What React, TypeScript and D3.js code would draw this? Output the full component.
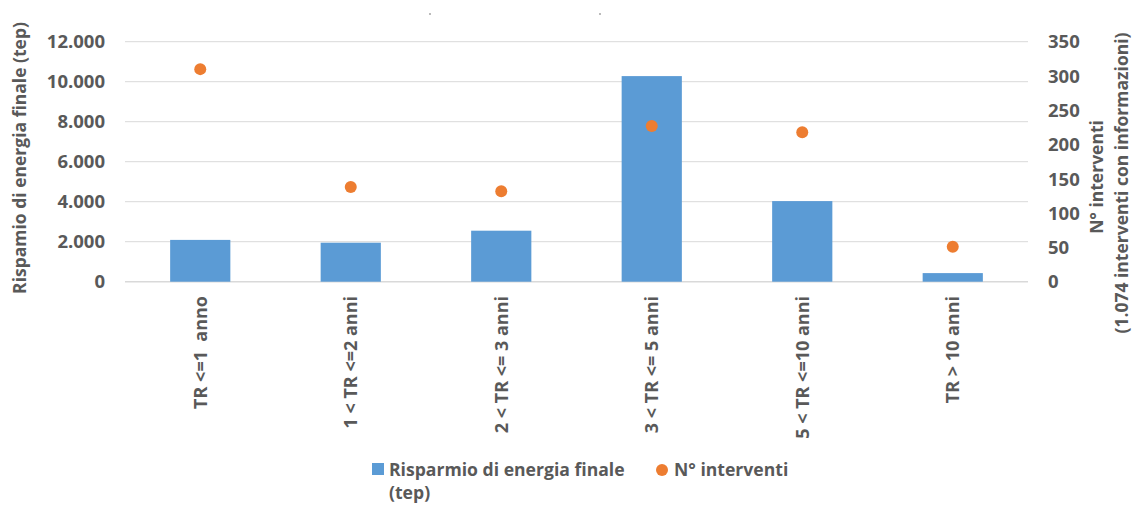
import React from "react";
import * as d3 from "d3";

const categories = ["TR <=1  anno", "1 < TR <=2 anni", "2 < TR <= 3 anni", "3 < TR <= 5 anni", "5 < TR <=10 anni", "TR > 10 anni"];
const risparmio = [2090, 1950, 2550, 10280, 4030, 430];
const interventi = [310, 138, 132, 227, 218, 51];
const leftTicks = [0, 2000, 4000, 6000, 8000, 10000, 12000];
const rightTicks = [0, 50, 100, 150, 200, 250, 300, 350];

const W = 1132, H = 506;
const M = { left: 125, right: 1028, top: 41.7, bottom: 281.7 };
const FONT = "'Open Sans', sans-serif";
const TXT = "#595959";
const fmt = (v: number) => (v === 0 ? "0" : d3.format(",")(v).replace(/,/g, "."));

export default function App() {
  const x = d3.scaleBand<string>().domain(categories).range([M.left, M.right]).paddingInner(0.6).paddingOuter(0.3);
  const xc = d3.scaleBand<string>().domain(categories).range([M.left, M.right]);
  const yL = d3.scaleLinear().domain([0, 12000]).range([M.bottom, M.top]);
  const yR = d3.scaleLinear().domain([0, 350]).range([M.bottom, M.top]);
  return (
    <svg width={W} height={H} style={{ position: "absolute", left: 0, top: 0, display: "block", background: "#fff" }} fontFamily={FONT}>
      <rect x={429} y={13} width={2} height={2} fill="#bbb" />
      <rect x={599} y={13} width={2} height={2} fill="#bbb" />
      {leftTicks.map((t) => (
        <line key={t} x1={M.left} x2={M.right} y1={yL(t)} y2={yL(t)} stroke="#d9d9d9" strokeWidth={t === 0 ? 1.5 : 1} />
      ))}
      {categories.map((c, i) => (
        <rect key={c} x={x(c)} width={x.bandwidth()} y={yL(risparmio[i])} height={yL(0) - yL(risparmio[i])} fill="#5b9bd5" />
      ))}
      {categories.map((c, i) => (
        <circle key={c} cx={(xc(c) as number) + xc.bandwidth() / 2} cy={yR(interventi[i])} r={6} fill="#ed7d31" />
      ))}
      {leftTicks.map((t) => (
        <text key={t} x={105} y={yL(t)} dy="0.36em" textAnchor="end" fontSize={18.5} fontWeight="bold" fill={TXT}>{fmt(t)}</text>
      ))}
      {rightTicks.map((t) => (
        <text key={t} x={1048} y={yR(t)} dy="0.36em" textAnchor="start" fontSize={18.5} fontWeight="bold" fill={TXT}>{t}</text>
      ))}
      {categories.map((c) => (
        <text key={c} transform={`translate(${(xc(c) as number) + xc.bandwidth() / 2 + 6.5},296) rotate(-90)`} textAnchor="end" fontSize={18} fontWeight="bold" fill={TXT} style={{ whiteSpace: "pre" }}>{c}</text>
      ))}
      <text transform="translate(26,158) rotate(-90)" textAnchor="middle" fontSize={17.5} fontWeight="bold" fill={TXT}>Rispamio di energia finale (tep)</text>
      <text transform="translate(1103,177) rotate(-90)" textAnchor="middle" fontSize={17.5} fontWeight="bold" fill={TXT}>N° interventi</text>
      <text transform="translate(1128,183) rotate(-90)" textAnchor="middle" fontSize={17.5} fontWeight="bold" fill={TXT}>(1.074 interventi con informazioni)</text>
      <rect x={372} y={463} width={12} height={12} fill="#5b9bd5" />
      <text x={389} y={476} fontSize={17.6} fontWeight="bold" fill={TXT}>Risparmio di energia finale</text>
      <text x={389} y={499} fontSize={17.6} fontWeight="bold" fill={TXT}>(tep)</text>
      <circle cx={662} cy={470} r={6} fill="#ed7d31" />
      <text x={674} y={476} fontSize={17.6} fontWeight="bold" fill={TXT}>N° interventi</text>
    </svg>
  );
}
